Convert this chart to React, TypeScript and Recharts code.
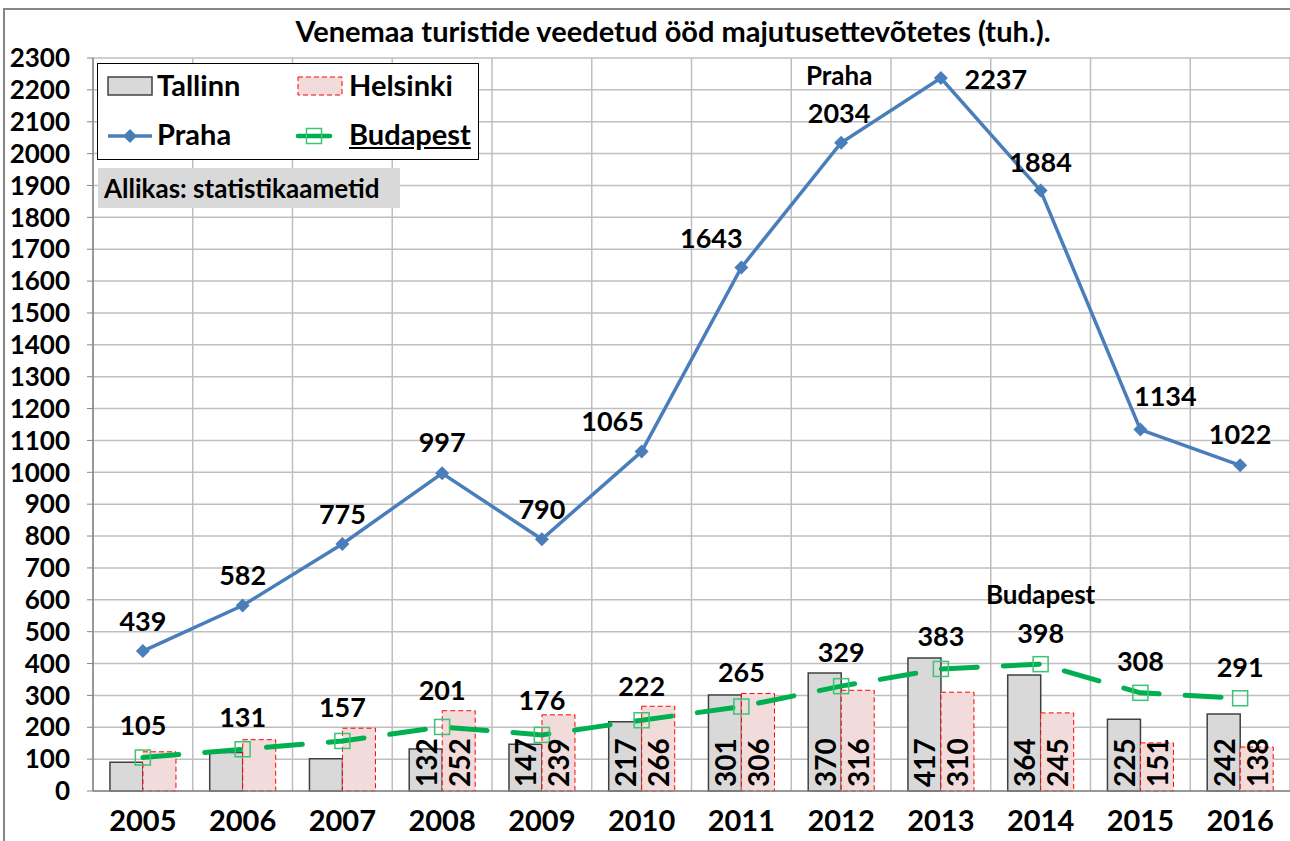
import React from 'react';
import {
  ComposedChart, Bar, Line, XAxis, YAxis, CartesianGrid, LabelList,
} from 'recharts';

const years = ['2005', '2006', '2007', '2008', '2009', '2010', '2011', '2012', '2013', '2014', '2015', '2016'];
const tallinn = [90, 121, 101, 132, 147, 217, 301, 370, 417, 364, 225, 242];
const helsinki = [123, 161, 197, 252, 239, 266, 306, 316, 310, 245, 151, 138];
const praha = [439, 582, 775, 997, 790, 1065, 1643, 2034, 2237, 1884, 1134, 1022];
const budapest = [105, 131, 157, 201, 176, 222, 265, 329, 383, 398, 308, 291];
const yTicks = [0, 100, 200, 300, 400, 500, 600, 700, 800, 900, 1000, 1100, 1200, 1300, 1400, 1500, 1600, 1700, 1800, 1900, 2000, 2100, 2200, 2300];

// bar value labels are shown from 2008 on
const barLabelFrom = 3;
// where the Praha labels sit relative to the point
const prahaDx = [0, 0, 0, 0, 0, -29, -30, -2, 55, 0, 25, 0];
const prahaDy = [-31, -31, -31, -32, -31, -31, -30, -30, 0, -29, -34, -32];
const budapestDy = [-33, -33, -34, -37, -35, -35, -35, -35, -33, -32, -32, -32];

const data = years.map((y, i) => ({
  year: y,
  tallinn: tallinn[i],
  helsinki: helsinki[i],
  praha: praha[i],
  budapest: budapest[i],
  tLabel: i >= barLabelFrom ? tallinn[i] : null,
  hLabel: i >= barLabelFrom ? helsinki[i] : null,
}));

const FONT = 'Lato, "Open Sans", sans-serif';
const PRAHA_C = '#4a7ebb';
const BUDA_C = '#00b050';

const VerticalLabel = (props: any) => {
  const { x, y, width, height, value } = props;
  if (value == null) return null;
  const cx = Number(x) + Number(width) / 2;
  const by = Number(y) + Number(height) - 4;
  return (
    <text x={cx} y={by} transform={`rotate(-90 ${cx} ${by})`} textAnchor="start"
      dominantBaseline="central" fontSize={28} fontWeight={700} fill="#000" fontFamily={FONT}>
      {value}
    </text>
  );
};

const PrahaLabel = (props: any) => {
  const { x, y, value, index } = props;
  const lx = Number(x) + prahaDx[index];
  const ly = Number(y) + prahaDy[index];
  return (
    <g>
      <text x={lx} y={ly} textAnchor="middle" dominantBaseline="central" fontSize={27}
        fontWeight={700} fill="#000" fontFamily={FONT}>{value}</text>
      {index === 7 && (
        <text x={lx} y={ly - 38} textAnchor="middle" dominantBaseline="central" fontSize={26}
          fontWeight={700} fill="#000" fontFamily={FONT}>Praha</text>
      )}
    </g>
  );
};

const BudapestLabel = (props: any) => {
  const { x, y, value, index } = props;
  const ly = Number(y) + budapestDy[index];
  return (
    <g>
      <text x={x} y={ly} textAnchor="middle" dominantBaseline="central" fontSize={27}
        fontWeight={700} fill="#000" fontFamily={FONT}>{value}</text>
      {index === 9 && (
        <text x={x} y={ly - 38} textAnchor="middle" dominantBaseline="central" fontSize={26}
          fontWeight={700} fill="#000" fontFamily={FONT}>Budapest</text>
      )}
    </g>
  );
};

const Diamond = (props: any) => {
  const { cx, cy } = props;
  if (cx == null || cy == null) return null;
  const r = 7;
  return <path d={`M${cx},${cy - r}L${cx + r},${cy}L${cx},${cy + r}L${cx - r},${cy}Z`} fill={PRAHA_C} />;
};

const OpenSquare = (props: any) => {
  const { cx, cy } = props;
  if (cx == null || cy == null) return null;
  return <rect x={cx - 7.5} y={cy - 7.5} width={15} height={15} fill="none" stroke="#3cc473" strokeWidth={1.5} />;
};

const boundaries = ({ offset }: any) => {
  const step = offset.width / years.length;
  return years.map((_, i) => offset.left + i * step).concat(offset.left + offset.width);
};

const legendText: React.CSSProperties = { fontSize: 29, fontWeight: 700, fontFamily: FONT, position: 'absolute' };

const ChartLegend = () => (
  <div style={{ position: 'absolute', left: 97, top: 63 }}>
    <div style={{ position: 'relative', width: 380, height: 95, border: '1.5px solid #000', background: '#fff' }}>
      <svg width={380} height={95} style={{ position: 'absolute', left: 0, top: 0 }}>
        <rect x={10} y={13} width={44} height={18} fill="#d9d9d9" stroke="#404040" strokeWidth={1.5} />
        <rect x={200} y={13} width={44} height={18} fill="#f2dcdb" stroke="#ff0000" strokeWidth={1} strokeDasharray="5 3" />
        <line x1={10} y1={72} x2={54} y2={72} stroke={PRAHA_C} strokeWidth={3.5} />
        <path d="M32,65L39,72L32,79L25,72Z" fill={PRAHA_C} />
        <line x1={200} y1={72} x2={232} y2={72} stroke={BUDA_C} strokeWidth={4.5} strokeLinecap="round" />
        <rect x={208.5} y={64.5} width={15} height={15} fill="none" stroke="#3cc473" strokeWidth={1.5} />
      </svg>
      <span style={{ ...legendText, left: 59, top: 3 }}>Tallinn</span>
      <span style={{ ...legendText, left: 251, top: 3 }}>Helsinki</span>
      <span style={{ ...legendText, left: 59, top: 52 }}>Praha</span>
      <span style={{ ...legendText, left: 251, top: 52, textDecoration: 'underline' }}>Budapest</span>
    </div>
    <div style={{ marginTop: 8, marginLeft: 1, width: 302, height: 40, background: '#d9d9d9', fontSize: 26,
      fontWeight: 700, fontFamily: FONT, lineHeight: '40px', paddingLeft: 6, boxSizing: 'border-box',
      whiteSpace: 'nowrap' }}>
      Allikas: statistikaametid
    </div>
  </div>
);

const App: React.FC = () => {
  return (
    <div style={{ position: 'absolute', left: 0, top: 0, width: 1290, height: 841, background: '#fff', overflow: 'hidden' }}>
      <div style={{ position: 'absolute', left: 3, top: 8, width: 1300, height: 850, border: '2px solid #868686' }} />
      <div style={{ position: 'absolute', left: 56, top: 13, width: 1234, textAlign: 'center', fontSize: 29,
        fontWeight: 700, fontFamily: FONT, lineHeight: '36px', whiteSpace: 'nowrap' }}>
        Venemaa turistide veedetud ööd majutusettevõtetes (tuh.).
      </div>
      <ComposedChart width={1290} height={841} data={data}
        margin={{ top: 58, right: 0, left: 8, bottom: 10 }}
        barCategoryGap="17%" barGap={0} style={{ position: 'absolute', left: 0, top: 0 }}>
        <CartesianGrid stroke="#bfbfbf" strokeWidth={1.5} verticalCoordinatesGenerator={boundaries} />
        <XAxis dataKey="year" height={40} axisLine={{ stroke: '#868686', strokeWidth: 1.5 }} tickLine={false}
          tick={{ fontSize: 29, fontWeight: 700, fill: '#000', fontFamily: FONT }} tickMargin={13} interval={0} />
        <YAxis domain={[0, 2300]} ticks={yTicks} width={85} interval={0}
          axisLine={{ stroke: '#868686', strokeWidth: 1.5 }} tickLine={{ stroke: '#868686' }} tickSize={6}
          tickMargin={17} tick={{ fontSize: 26, fontWeight: 700, fill: '#000', fontFamily: FONT }} />
        <Bar dataKey="tallinn" fill="#d9d9d9" stroke="#404040" strokeWidth={1.5} isAnimationActive={false}>
          <LabelList dataKey="tLabel" content={VerticalLabel} />
        </Bar>
        <Bar dataKey="helsinki" fill="#f2dcdb" stroke="#ff0000" strokeWidth={1} strokeDasharray="5 3" isAnimationActive={false}>
          <LabelList dataKey="hLabel" content={VerticalLabel} />
        </Bar>
        <Line dataKey="budapest" stroke={BUDA_C} strokeWidth={5} strokeDasharray="36 26" strokeLinecap="round"
          dot={<OpenSquare />} activeDot={false} isAnimationActive={false}>
          <LabelList dataKey="budapest" content={BudapestLabel} />
        </Line>
        <Line dataKey="praha" stroke={PRAHA_C} strokeWidth={3.5} dot={<Diamond />} activeDot={false} isAnimationActive={false}>
          <LabelList dataKey="praha" content={PrahaLabel} />
        </Line>
      </ComposedChart>
      <ChartLegend />
    </div>
  );
};

export default App;
